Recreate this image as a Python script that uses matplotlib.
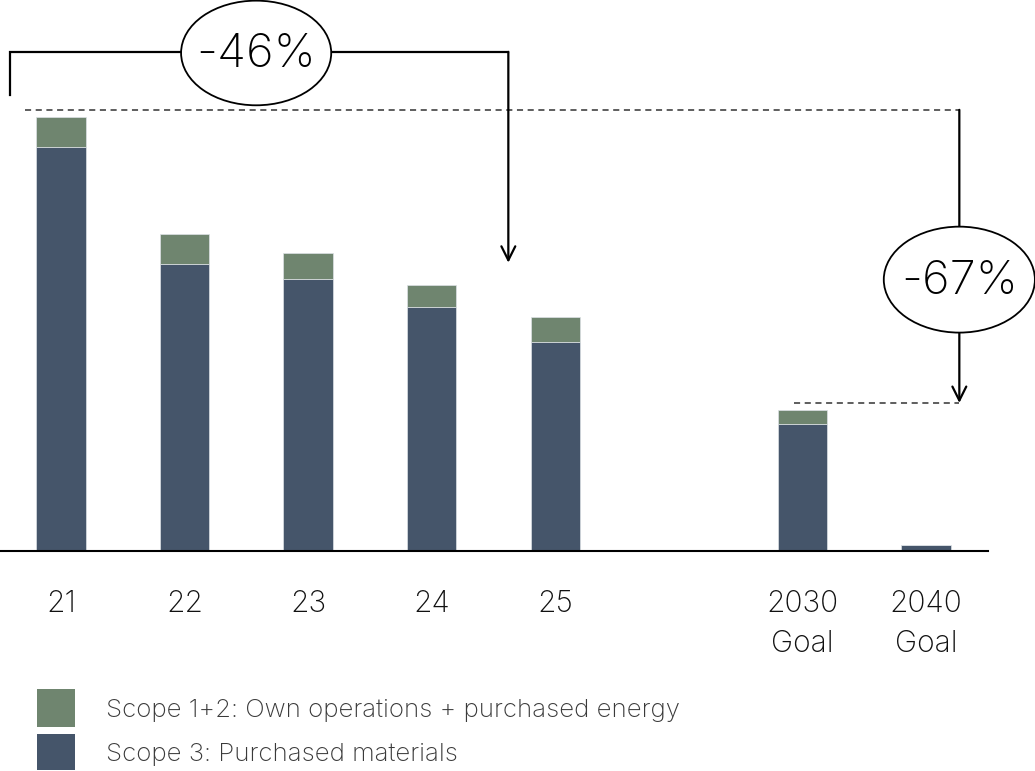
import matplotlib.pyplot as plt
from matplotlib.patches import Ellipse, Rectangle

# emissions indexed to 2021 = 100
kategorie = ["21", "22", "23", "24", "25", "2030\nGoal", "2040\nGoal"]
pozycje = [0, 1, 2, 3, 4, 6, 7]
scope3 = [93.1, 66.1, 62.7, 56.2, 48.1, 29.2, 1.3]
scope12 = [6.9, 6.8, 5.9, 5.1, 5.8, 3.3, 0.0]
legenda = ["Scope 1+2: Own operations + purchased energy", "Scope 3: Purchased materials"]

zielony = "#6f856f"
niebieski = "#45556a"
czcionka = ["Inter", "DejaVu Sans"]
waga = "light"

fig = plt.figure(figsize=(10.35, 7.71), dpi=100)
ax = fig.add_axes([0, 1 - 551 / 771, 988 / 1035, 551 / 771])

ax.bar(pozycje, scope3, width=0.4, color=niebieski, edgecolor="#dde2e6", linewidth=0.5)
ax.bar(pozycje, scope12, width=0.4, bottom=scope3, color=zielony,
       edgecolor="#dde2e6", linewidth=0.5)

ax.set_xlim(-0.494, 7.502)
ax.set_ylim(0, 126.9)
for s in ["top", "right", "left"]:
    ax.spines[s].set_visible(False)
ax.spines["bottom"].set_linewidth(1.5)
ax.set_yticks([])
ax.set_xticks(pozycje)
ax.set_xticklabels(kategorie, fontsize=21.5, family=czcionka, weight=waga,
                   linespacing=1.55, color="#111111")
ax.tick_params(axis="x", length=0, pad=28)

suma = [a + b for a, b in zip(scope3, scope12)]
odst = 1.6

# dashed reference lines
ax.plot([-0.29, 7.27], [suma[0] + odst] * 2, ls=(0, (4, 3)), color="#333333",
        lw=1.1, clip_on=False)
ax.plot([5.93, 7.27], [suma[5] + odst] * 2, ls=(0, (4, 3)), color="#333333",
        lw=1.1, clip_on=False)

# -46% bracket
ax.plot([-0.413, -0.413, 3.62], [105.1, 114.9, 114.9], color="black", lw=1.6,
        clip_on=False, solid_joinstyle="miter")
ax.annotate("", xy=(3.62, suma[4] + 12.5), xytext=(3.62, 114.95),
            arrowprops=dict(arrowstyle="->,head_length=1.0,head_width=0.5",
                            color="black", lw=1.6, shrinkA=0, shrinkB=0),
            annotation_clip=False)
ax.add_patch(Ellipse((1.579, 114.7), 1.215, 24.1, facecolor="white",
                     edgecolor="black", lw=1.3, clip_on=False, zorder=5))
ax.text(1.579, 114.2, "-46%", fontsize=34, family=czcionka, weight=waga,
        ha="center", va="center", zorder=6)

# -67% arrow
ax.annotate("", xy=(7.27, suma[5] + odst), xytext=(7.27, suma[0] + odst),
            arrowprops=dict(arrowstyle="->,head_length=1.0,head_width=0.5",
                            color="black", lw=1.6, shrinkA=0, shrinkB=0),
            annotation_clip=False)
ax.add_patch(Ellipse((7.27, 62.5), 1.223, 24.4, facecolor="white",
                     edgecolor="black", lw=1.3, clip_on=False, zorder=5))
ax.text(7.27, 62.0, "-67%", fontsize=34, family=czcionka, weight=waga,
        ha="center", va="center", zorder=6)

# legend drawn by hand (figure pixels)
W, H = 1035, 771
for kolor, tekst, gora, dol in [(zielony, legenda[0], 689, 727),
                                (niebieski, legenda[1], 734, 770)]:
    fig.patches.append(Rectangle((37 / W, 1 - dol / H), 38 / W, (dol - gora) / H,
                                 facecolor=kolor, transform=fig.transFigure))
    fig.text(106 / W, 1 - ((gora + dol) / 2 + 2) / H, tekst, fontsize=18.6,
             family=czcionka, weight=waga, color="#3a3a3a", va="center")

plt.savefig("out.png", dpi=100)
